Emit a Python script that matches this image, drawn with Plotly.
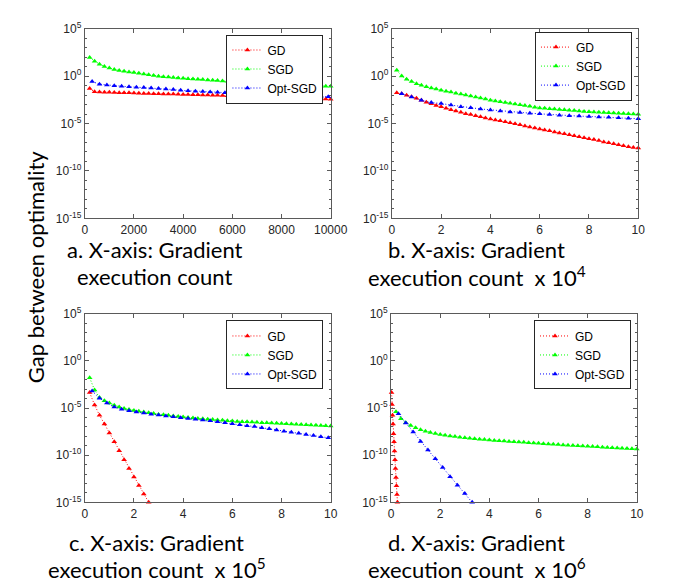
import plotly.graph_objects as go

# ---------------- data ----------------
# panel a: x = gradient execution count
a_x_gd = [200, 400, 600, 800, 1000, 1200, 1400, 1600, 1800, 2000, 2200, 2400, 2600, 2800, 3000,
          3200, 3400, 3600, 3800, 4000, 4200, 4400, 4600, 4800, 5000, 5200, 5400, 5600, 5800, 6000,
          6200, 6400, 6600, 6800, 7000, 7200, 7400, 7600, 7800, 8000, 8200, 8400, 8600, 8800, 9000,
          9200, 9400, 9600, 9800, 10000]
a_gd = [4.8e-2, 2.2e-2, 2.1e-2, 2.0e-2, 2.0e-2, 1.9e-2, 1.8e-2, 1.7e-2, 1.7e-2, 1.6e-2,
        1.55e-2, 1.5e-2, 1.45e-2, 1.4e-2, 1.38e-2, 1.32e-2, 1.29e-2, 1.26e-2, 1.2e-2, 1.17e-2,
        1.15e-2, 1.1e-2, 1.07e-2, 1.02e-2, 1.0e-2, 9.8e-3, 9.3e-3, 9.1e-3, 8.7e-3, 8.5e-3,
        8.1e-3, 7.9e-3, 7.6e-3, 7.2e-3, 7.1e-3, 6.8e-3, 6.5e-3, 6.3e-3, 6.0e-3, 5.8e-3,
        5.5e-3, 5.2e-3, 5.0e-3, 4.8e-3, 4.6e-3, 4.4e-3, 4.2e-3, 4.0e-3, 3.8e-3, 3.6e-3]
a_x_sgd = a_x_gd
a_sgd = [93.3, 36.3, 17.8, 10.5, 7.08, 5.01, 3.98, 3.31, 2.75, 2.34,
         1.95, 1.66, 1.38, 1.15, 0.955, 0.871, 0.794, 0.724, 0.646, 0.575,
         0.537, 0.501, 0.468, 0.427, 0.389, 0.363, 0.339, 0.309, 0.282, 0.263,
         0.240, 0.219, 0.200, 0.182, 0.166, 0.162, 0.155, 0.151, 0.145, 0.141,
         0.132, 0.123, 0.115, 0.107, 0.100, 0.0955, 0.0933, 0.0891, 0.0851, 0.0832]
a_x_opt = [300, 600, 900, 1200, 1500, 1800, 2100, 2400, 2700, 3000, 3300, 3600, 3900, 4200, 4500,
           4800, 5100, 5400, 5700, 6000, 6300, 6600, 6900, 7200, 7500, 7800, 8100, 8400, 8700,
           9000, 9300, 9600, 9900]
a_opt = [0.263, 0.141, 0.117, 0.0955, 0.0832, 0.0741, 0.0676, 0.0617, 0.0562, 0.0501,
         0.0437, 0.0380, 0.0316, 0.0282, 0.0257, 0.0234, 0.0214, 0.0195, 0.0178, 0.0162,
         0.0151, 0.0141, 0.0132, 0.0123, 0.0115, 0.0107, 0.0100, 9.3e-3, 8.7e-3,
         8.1e-3, 7.6e-3, 7.1e-3, 6.8e-3]

# panel b: x = gradient execution count / 1e4
b_x_gd = [0.2, 0.4, 0.6, 0.8, 1.0, 1.2, 1.4, 1.6, 1.8, 2.0, 2.2, 2.4, 2.6, 2.8, 3.0, 3.2, 3.4,
          3.6, 3.8, 4.0, 4.2, 4.4, 4.6, 4.8, 5.0, 5.2, 5.4, 5.6, 5.8, 6.0, 6.2, 6.4, 6.6, 6.8,
          7.0, 7.2, 7.4, 7.6, 7.8, 8.0, 8.2, 8.4, 8.6, 8.8, 9.0, 9.2, 9.4, 9.6, 9.8, 10.0]
b_gd = [1.7e-2, 1.35e-2, 9.8e-3, 6.6e-3, 4.5e-3, 2.8e-3, 1.7e-3, 1.2e-3, 7.9e-4, 5.9e-4,
        4.0e-4, 2.9e-4, 2.1e-4, 1.55e-4, 1.1e-4, 8.9e-5, 6.6e-5, 5.1e-5, 3.8e-5, 3.0e-5,
        2.3e-5, 1.9e-5, 1.5e-5, 1.2e-5, 9.3e-6, 7.2e-6, 5.4e-6, 4.3e-6, 3.3e-6, 2.6e-6,
        2.1e-6, 1.7e-6, 1.3e-6, 1.0e-6, 8.1e-7, 6.5e-7, 5.1e-7, 4.1e-7, 3.2e-7, 2.5e-7,
        2.0e-7, 1.6e-7, 1.15e-7, 9.1e-8, 7.2e-8, 5.8e-8, 4.5e-8, 3.5e-8, 3.0e-8, 2.6e-8]
b_x_sgd = b_x_gd
b_sgd = [4.07, 1.0, 0.457, 0.263, 0.155, 0.105, 0.0759, 0.0562, 0.0437, 0.0324,
         0.0257, 0.0204, 0.0158, 0.0126, 0.0100, 7.9e-3, 6.3e-3, 5.0e-3, 3.8e-3, 2.9e-3,
         2.4e-3, 2.0e-3, 1.66e-3, 1.35e-3, 1.12e-3, 9.3e-4, 7.8e-4, 6.5e-4, 5.2e-4, 4.4e-4,
         4.0e-4, 3.6e-4, 3.3e-4, 3.0e-4, 2.75e-4, 2.5e-4, 2.3e-4, 2.1e-4, 1.9e-4, 1.74e-4,
         1.62e-4, 1.51e-4, 1.45e-4, 1.35e-4, 1.26e-4, 1.17e-4, 1.12e-4, 1.05e-4, 1.0e-4, 9.3e-5]
b_x_opt = [0.4, 0.8, 1.2, 1.6, 2.0, 2.4, 2.8, 3.2, 3.6, 4.0, 4.4, 4.8, 5.2, 5.6, 6.0, 6.4, 6.8,
           7.2, 7.6, 8.0, 8.4, 8.8, 9.2, 9.6, 10.0]
b_opt = [1.35e-2, 6.2e-3, 2.8e-3, 1.6e-3, 1.3e-3, 8.7e-4, 5.9e-4, 4.7e-4, 3.4e-4, 2.7e-4,
         2.1e-4, 1.66e-4, 1.45e-4, 1.23e-4, 1.05e-4, 8.9e-5, 7.6e-5, 6.6e-5, 6.0e-5, 5.6e-5,
         4.8e-5, 4.5e-5, 4.1e-5, 3.5e-5, 3.2e-5]

# panel c: x = gradient execution count / 1e5
c_x_gd = [0.2, 0.4, 0.6, 0.8, 1.0, 1.2, 1.4, 1.6, 1.8, 2.0, 2.2, 2.4, 2.6]
c_gd = [4.3e-4, 2.1e-5, 1.7e-6, 2.0e-7, 2.2e-8, 2.6e-9, 3.0e-10, 3.3e-11, 3.9e-12,
        5.0e-13, 6.3e-14, 7.9e-15, 1.0e-15]
c_x_sgd = b_x_gd
c_sgd = [1.6e-2, 8.1e-4, 1.3e-4, 5.9e-5, 3.4e-5, 1.95e-5, 1.3e-5, 8.9e-6, 6.9e-6, 5.5e-6,
         4.6e-6, 3.8e-6, 3.2e-6, 2.6e-6, 2.1e-6, 1.9e-6, 1.66e-6, 1.45e-6, 1.26e-6, 1.12e-6,
         1.0e-6, 8.9e-7, 7.9e-7, 7.1e-7, 6.5e-7, 5.9e-7, 5.4e-7, 4.9e-7, 4.5e-7, 4.1e-7,
         3.8e-7, 3.5e-7, 3.4e-7, 3.2e-7, 3.0e-7, 2.8e-7, 2.7e-7, 2.6e-7, 2.45e-7, 2.3e-7,
         2.2e-7, 2.0e-7, 1.95e-7, 1.8e-7, 1.7e-7, 1.6e-7, 1.5e-7, 1.4e-7, 1.3e-7, 1.23e-7]
c_x_opt = [0.3, 0.6, 0.9, 1.2, 1.5, 1.8, 2.1, 2.4, 2.7, 3.0, 3.3, 3.6, 3.9, 4.2, 4.5, 4.8, 5.1,
           5.4, 5.7, 6.0, 6.3, 6.6, 6.9, 7.2, 7.5, 7.8, 8.1, 8.4, 8.7, 9.0, 9.3, 9.6, 9.9]
c_opt = [6.3e-4, 1.1e-4, 3.4e-5, 1.3e-5, 7.6e-6, 5.1e-6, 3.7e-6, 2.95e-6, 2.2e-6, 1.8e-6,
         1.45e-6, 1.17e-6, 9.5e-7, 7.9e-7, 6.6e-7, 5.5e-7, 4.5e-7, 3.6e-7, 2.75e-7, 2.1e-7,
         1.7e-7, 1.35e-7, 1.07e-7, 8.3e-8, 6.3e-8, 4.7e-8, 3.5e-8, 2.7e-8, 2.1e-8,
         1.6e-8, 1.2e-8, 9.1e-9, 6.9e-9]

# panel d: x = gradient execution count / 1e6
d_x_gd = [0.02, 0.04, 0.06, 0.08, 0.10, 0.12, 0.14, 0.16, 0.18, 0.20, 0.22, 0.24, 0.26]
d_gd = [4.5e-4, 2.3e-5, 1.7e-6, 2.0e-7, 1.9e-8, 2.6e-9, 2.8e-10, 3.3e-11, 3.9e-12,
        4.3e-13, 5.9e-14, 6.9e-15, 1.0e-15]
d_x_sgd = b_x_gd
d_sgd = [4.0e-6, 7.2e-7, 2.8e-7, 1.38e-7, 7.9e-8, 5.0e-8, 3.5e-8, 2.5e-8, 1.95e-8, 1.55e-8,
         1.29e-8, 1.1e-8, 9.3e-9, 8.1e-9, 7.1e-9, 6.3e-9, 5.6e-9, 5.0e-9, 4.5e-9, 4.0e-9,
         3.7e-9, 3.4e-9, 3.2e-9, 2.9e-9, 2.7e-9, 2.45e-9, 2.3e-9, 2.1e-9, 1.95e-9, 1.8e-9,
         1.66e-9, 1.55e-9, 1.45e-9, 1.32e-9, 1.23e-9, 1.15e-9, 1.07e-9, 1.0e-9, 9.3e-10, 8.7e-10,
         8.1e-10, 7.6e-10, 7.1e-10, 6.6e-10, 6.2e-10, 5.8e-10, 5.4e-10, 5.1e-10, 4.8e-10, 4.5e-10]
d_x_opt = [0.3, 0.6, 0.9, 1.2, 1.5, 1.8, 2.1, 2.4, 2.7, 3.0, 3.3]
d_opt = [2.5e-6, 2.6e-7, 2.8e-8, 2.8e-9, 3.6e-10, 4.2e-11, 4.8e-12, 5.2e-13, 6.6e-14,
         8.5e-15, 1.0e-15]

series_names = ["GD", "SGD", "Opt-SGD"]
series_colors = ["#ff0000", "#00ff00", "#0000ff"]

y_tickvals = [1e-15, 1e-10, 1e-5, 1, 1e5]
y_ticktext = ["10<sup>-15</sup>", "10<sup>-10</sup>", "10<sup>-5</sup>", "10<sup>0</sup>", "10<sup>5</sup>"]
a_xticks = [0, 2000, 4000, 6000, 8000, 10000]
a_xticktext = ["0", "2000", "4000", "6000", "8000", "10000"]
bcd_xticks = [0, 2, 4, 6, 8, 10]
bcd_xticktext = ["0", "2", "4", "6", "8", "10"]

caption_line1 = ["a. X-axis: Gradient", "b. X-axis: Gradient",
                 "c. X-axis: Gradient", "d. X-axis: Gradient"]
caption_line2 = ["execution count",
                 "execution count\u00a0\u00a0x 10<sup>4</sup>",
                 "execution count\u00a0\u00a0x 10<sup>5</sup>",
                 "execution count\u00a0\u00a0x 10<sup>6</sup>"]
y_title = "Gap between optimality"

# ---------------- figure ----------------
W, H = 673, 585
panels = [
    dict(data=[(a_x_gd, a_gd), (a_x_sgd, a_sgd), (a_x_opt, a_opt)], xr=[0, 10000],
         xt=a_xticks, xtt=a_xticktext,
         px=(76, 329.5), py=(12, 207), leg=(322, 18), cap=(148, 239, 267)),
    dict(data=[(b_x_gd, b_gd), (b_x_sgd, b_sgd), (b_x_opt, b_opt)], xr=[0, 10],
         xt=bcd_xticks, xtt=bcd_xticktext,
         px=(392.5, 646.5), py=(12, 207), leg=(640, 15), cap=(480, 239, 267)),
    dict(data=[(c_x_gd, c_gd), (c_x_sgd, c_sgd), (c_x_opt, c_opt)], xr=[0, 10],
         xt=bcd_xticks, xtt=bcd_xticktext,
         px=(76, 329.5), py=(305, 499), leg=(322, 312), cap=(150, 540, 567)),
    dict(data=[(d_x_gd, d_gd), (d_x_sgd, d_sgd), (d_x_opt, d_opt)], xr=[0, 10],
         xt=bcd_xticks, xtt=bcd_xticktext,
         px=(391.7, 645), py=(305, 499), leg=(639, 312), cap=(480, 540, 567)),
]

fig = go.Figure()
axis_color = "#5a5a5a"
tick_font = dict(family="Liberation Sans, Arial, sans-serif", size=12, color="#262626")
cap_font = dict(family="Lato, Open Sans, sans-serif", size=22, color="#000000")
layout = dict(width=W, height=H, margin=dict(l=0, r=0, t=0, b=0),
              paper_bgcolor="white", plot_bgcolor="white", showlegend=True, annotations=[])

for i, p in enumerate(panels):
    k = "" if i == 0 else str(i + 1)
    legname = "legend" + k
    for (xs, ys), name, col in zip(p["data"], series_names, series_colors):
        fig.add_trace(go.Scatter(
            x=xs, y=ys, name=name, mode="lines+markers",
            line=dict(color=col, width=1, dash="1px,2px"),
            marker=dict(symbol="triangle-up", size=5, color=col),
            xaxis="x" + k, yaxis="y" + k, legend=legname, cliponaxis=False))
    layout["xaxis" + k] = dict(
        domain=[p["px"][0] / W, p["px"][1] / W], range=p["xr"], anchor="y" + k,
        tickmode="array", tickvals=p["xt"], ticktext=p["xtt"], ticks="inside", ticklen=4,
        tickcolor=axis_color, showline=True, linecolor=axis_color, linewidth=1, mirror="ticks",
        showgrid=False, zeroline=False, tickfont=tick_font)
    layout["yaxis" + k] = dict(
        domain=[1 - p["py"][1] / H, 1 - p["py"][0] / H], type="log", range=[-15, 5],
        anchor="x" + k, tickmode="array", tickvals=y_tickvals, ticktext=y_ticktext,
        ticks="inside", ticklen=4, tickcolor=axis_color,
        minor=dict(ticks="inside", ticklen=2, tickcolor=axis_color, tickmode="array",
                   tickvals=[10.0 ** e for e in range(-15, 6)]),
        showline=True, linecolor=axis_color, linewidth=1, mirror="ticks",
        showgrid=False, zeroline=False, tickfont=tick_font)
    layout[legname] = dict(
        x=p["leg"][0] / W, y=1 - p["leg"][1] / H, xanchor="right", yanchor="top",
        bgcolor="white", bordercolor="#262626", borderwidth=1, itemwidth=30,
        font=dict(family="Liberation Sans, Arial, sans-serif", size=12, color="#000000"),
        tracegroupgap=0)
    cx, y1, y2 = p["cap"]
    layout["annotations"].append(dict(
        text=caption_line1[i], xref="paper", yref="paper", x=cx / W, y=1 - y1 / H,
        xanchor="center", yanchor="middle", showarrow=False, font=cap_font, borderpad=0))
    layout["annotations"].append(dict(
        text=caption_line2[i], xref="paper", yref="paper", x=cx / W, y=1 - y2 / H,
        xanchor="center", yanchor="middle", showarrow=False, font=cap_font, borderpad=0))

layout["annotations"].append(dict(
    text=y_title, xref="paper", yref="paper", x=26 / W, y=1 - 257 / H, textangle=-90,
    xanchor="center", yanchor="middle", showarrow=False, font=cap_font))

fig.update_layout(**layout)
fig.write_html("out.html")
